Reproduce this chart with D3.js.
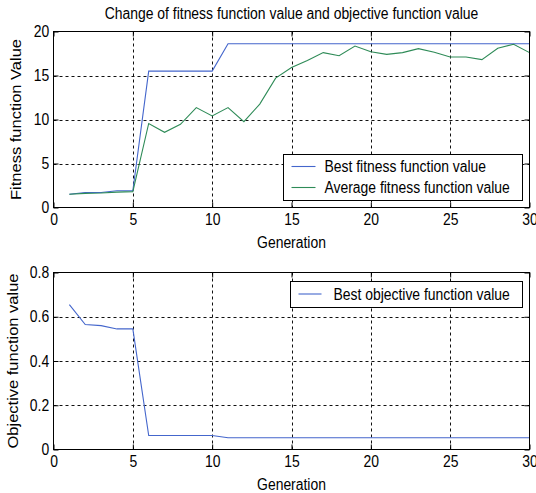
<!DOCTYPE html>
<html>
<head>
<meta charset="utf-8">
<script src="https://cdn.jsdelivr.net/npm/d3@7"></script>
<style>
  body { margin: 0; background: #fff; }
  text { font-family: "Liberation Sans", Arial, sans-serif; fill: #000; }
</style>
</head>
<body>
<div class="chart"></div>
<script>
// data
const generation = d3.range(1, 31);
const bestFitness = [1.5, 1.7, 1.7, 1.9, 1.9, 15.5, 15.5, 15.5, 15.5, 15.5,
  18.6, 18.6, 18.6, 18.6, 18.6, 18.6, 18.6, 18.6, 18.6, 18.6,
  18.6, 18.6, 18.6, 18.6, 18.6, 18.6, 18.6, 18.6, 18.6, 18.6];
const avgFitness = [1.5, 1.6, 1.65, 1.75, 1.8, 9.55, 8.55, 9.45, 11.35, 10.4,
  11.35, 9.75, 11.75, 14.7, 15.9, 16.7, 17.6, 17.25, 18.35, 17.7,
  17.4, 17.6, 18.05, 17.65, 17.1, 17.1, 16.8, 18.1, 18.55, 17.6];
const bestObjective = [0.655, 0.565, 0.56, 0.545, 0.545, 0.063, 0.063, 0.063, 0.063, 0.063,
  0.053, 0.053, 0.053, 0.053, 0.053, 0.053, 0.053, 0.053, 0.053, 0.053,
  0.053, 0.053, 0.053, 0.053, 0.053, 0.053, 0.053, 0.053, 0.053, 0.053];
const xTicks = [0, 5, 10, 15, 20, 25, 30];
const fitTicks = [0, 5, 10, 15, 20];
const objTicks = [0, 0.2, 0.4, 0.6, 0.8];

const blue = "#4466cc", green = "#2e8b57";
const fontSize = 16, squeeze = 0.87;

const W = 536, H = 493;
const left = 53.5, right = 529.5;

const svg = d3.select(".chart").append("svg")
  .attr("width", W)
  .attr("height", H);

// title
svg.append("text")
  .attr("transform", `translate(${(left + right) / 2},19) scale(${squeeze},1)`)
  .attr("text-anchor", "middle")
  .attr("font-size", fontSize)
  .text("Change of fitness function value and objective function value");

function panel(opts) {
  const { top, bottom, yDomain, yTicks, yFormat, series, yLabel, yLabelX, legend } = opts;

  const xScale = d3.scaleLinear().domain([0, 30]).range([left, right]);
  const yScale = d3.scaleLinear().domain(yDomain).range([bottom, top]);

  const g = svg.append("g");

  // dashed grid (inner lines only)
  g.selectAll(".vgrid")
    .data(xTicks.slice(1, -1))
    .join("line")
    .attr("x1", d => Math.round(xScale(d)) + 0.5).attr("x2", d => Math.round(xScale(d)) + 0.5)
    .attr("y1", top).attr("y2", bottom)
    .attr("stroke", "#111").attr("stroke-dasharray", "3,3");

  g.selectAll(".hgrid")
    .data(yTicks.slice(1, -1))
    .join("line")
    .attr("x1", left).attr("x2", right)
    .attr("y1", d => Math.round(yScale(d)) + 0.5).attr("y2", d => Math.round(yScale(d)) + 0.5)
    .attr("stroke", "#111").attr("stroke-dasharray", "3,3");

  // lines
  const line = d3.line()
    .x((d, i) => xScale(generation[i]))
    .y(d => yScale(d));

  series.forEach(s => {
    g.append("path")
      .datum(s.values)
      .attr("fill", "none")
      .attr("stroke", s.color)
      .attr("stroke-width", 1.1)
      .attr("d", line);
  });

  // axes, ticks pointing inward
  const styleAxis = sel => {
    sel.select(".domain").remove();
    sel.selectAll("line").attr("stroke", "#000");
    sel.selectAll("text")
      .attr("font-size", fontSize)
      .attr("font-family", '"Liberation Sans", Arial, sans-serif')
      .attr("fill", "#000");
  };

  g.append("g")
    .attr("transform", `translate(0,${bottom})`)
    .call(d3.axisBottom(xScale).tickValues(xTicks).tickSize(-5).tickPadding(6).tickFormat(d3.format("d")))
    .call(styleAxis)
    .selectAll("text").attr("transform", `scale(${squeeze},1)`);

  g.append("g")
    .attr("transform", `translate(0,${top})`)
    .call(d3.axisTop(xScale).tickValues(xTicks).tickSize(-5).tickFormat(""))
    .call(styleAxis);

  g.append("g")
    .attr("transform", `translate(${left},0)`)
    .call(d3.axisLeft(yScale).tickValues(yTicks).tickSize(-5).tickPadding(5).tickFormat(yFormat))
    .call(styleAxis)
    .selectAll("text").attr("transform", `scale(${squeeze},1)`);

  g.append("g")
    .attr("transform", `translate(${right},0)`)
    .call(d3.axisRight(yScale).tickValues(yTicks).tickSize(-5).tickFormat(""))
    .call(styleAxis);

  // frame
  g.append("rect")
    .attr("x", left).attr("y", top)
    .attr("width", right - left).attr("height", bottom - top)
    .attr("fill", "none").attr("stroke", "#000");

  // labels
  g.append("text")
    .attr("transform", `translate(${(left + right) / 2},${bottom + 40}) scale(${squeeze},1)`)
    .attr("text-anchor", "middle")
    .attr("font-size", fontSize)
    .text("Generation");

  g.append("text")
    .attr("transform", `translate(${yLabelX},${(top + bottom) / 2}) scale(${squeeze},1) rotate(-90)`)
    .attr("text-anchor", "middle")
    .attr("font-size", fontSize + 0.5)
    .text(yLabel);

  // legend
  const lg = g.append("g");
  lg.append("rect")
    .attr("x", legend.x).attr("y", legend.y)
    .attr("width", legend.w).attr("height", legend.h)
    .attr("fill", "#fff").attr("stroke", "#000");

  legend.items.forEach((it, i) => {
    const ly = legend.y + legend.first + i * legend.step;
    lg.append("line")
      .attr("x1", legend.x + legend.lx0).attr("x2", legend.x + legend.lx1)
      .attr("y1", ly).attr("y2", ly)
      .attr("stroke", it.color).attr("stroke-width", 1.1);
    lg.append("text")
      .attr("transform", `translate(${legend.x + legend.tx},${ly + 5.5}) scale(${squeeze},1)`)
      .attr("font-size", fontSize)
      .text(it.label);
  });
}

panel({
  top: 31.5, bottom: 207.5,
  yDomain: [0, 20], yTicks: fitTicks, yFormat: d3.format("d"),
  series: [
    { values: bestFitness, color: blue },
    { values: avgFitness, color: green }
  ],
  yLabel: "Fitness function Value", yLabelX: 21,
  legend: {
    x: 283.5, y: 154.5, w: 239, h: 46, first: 12, step: 21, lx0: 8, lx1: 32, tx: 41,
    items: [
      { label: "Best fitness function value", color: blue },
      { label: "Average fitness function value", color: green }
    ]
  }
});

panel({
  top: 272.5, bottom: 449.5,
  yDomain: [0, 0.8], yTicks: objTicks, yFormat: d => d === 0 ? "0" : d3.format(".1f")(d),
  series: [
    { values: bestObjective, color: blue }
  ],
  yLabel: "Objective function value", yLabelX: 18,
  legend: {
    x: 290.5, y: 281.5, w: 232, h: 26, first: 12.5, step: 21, lx0: 8, lx1: 31, tx: 43,
    items: [
      { label: "Best objective function value", color: blue }
    ]
  }
});
</script>
</body>
</html>
